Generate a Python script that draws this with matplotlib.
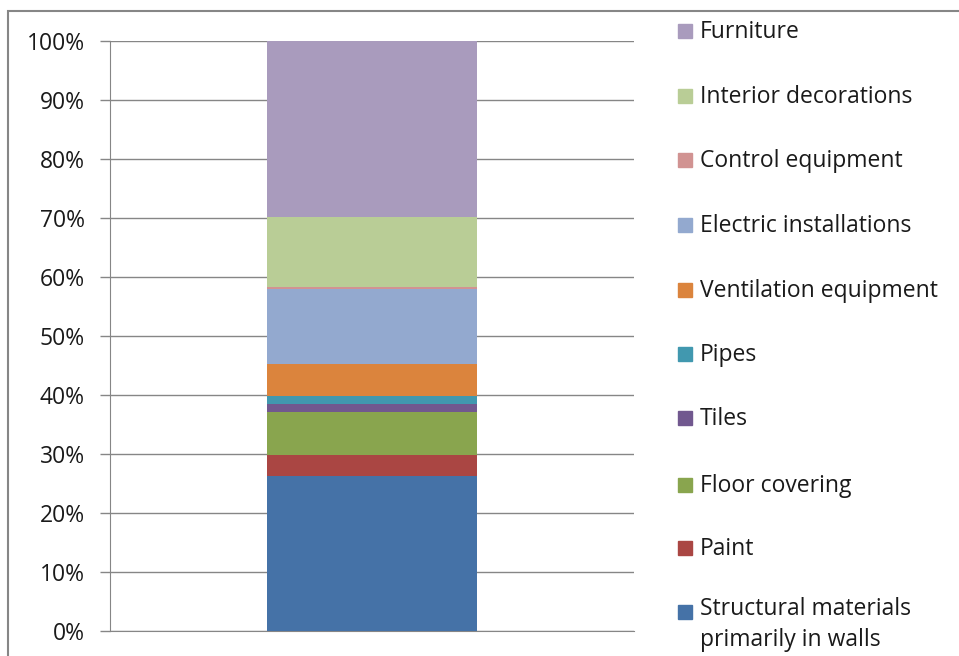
import matplotlib
matplotlib.use("Agg")
import matplotlib.pyplot as plt
import matplotlib.patches as mpatches
from matplotlib.ticker import PercentFormatter

plt.rcParams["font.family"] = ["Open Sans", "DejaVu Sans"]

categories = [
    "Structural materials\nprimarily in walls",
    "Paint",
    "Floor covering",
    "Tiles",
    "Pipes",
    "Ventilation equipment",
    "Electric installations",
    "Control equipment",
    "Interior decorations",
    "Furniture",
]
values = [26.3, 3.5, 7.4, 1.3, 1.3, 5.45, 12.65, 0.4, 11.9, 29.8]
colors = ["#4572A7", "#AA4643", "#89A54E", "#71588F", "#4198AF",
          "#DB843D", "#93A9CF", "#D19392", "#B9CD96", "#A99BBD"]
yticks = [0, 10, 20, 30, 40, 50, 60, 70, 80, 90, 100]

W, H = 959, 656
fig = plt.figure(figsize=(W / 100, H / 100), dpi=100)
ax = fig.add_axes([110 / W, (H - 631) / H, 524 / W, 590 / H])

# stacked 100% column
bottom = 0
for v, c in zip(values, colors):
    ax.bar(0, v, width=0.4, bottom=bottom, color=c, zorder=3)
    bottom += v

ax.set_xlim(-0.5, 0.5)
ax.set_ylim(0, 100)
ax.set_xticks([])
ax.set_yticks(yticks)
ax.yaxis.set_major_formatter(PercentFormatter(decimals=0))
ax.grid(axis="y", color="#868686", linewidth=1, zorder=0)
ax.tick_params(axis="y", length=7.2, width=1, color="#868686",
               labelsize=16.5, labelcolor="#1a1a1a", pad=11)
for s in ["top", "right"]:
    ax.spines[s].set_visible(False)
ax.spines["left"].set_color("#868686")
ax.spines["bottom"].set_color("#868686")

# legend, drawn by hand in figure pixels (Excel style, reverse order)
y_pos = [612, 548, 485, 418, 354, 290, 225, 160, 96, 31]
for lab, c, yp in zip(categories, colors, y_pos):
    fig.patches.append(mpatches.Rectangle(
        (678 / W, (H - yp - 7) / H), 14 / W, 14 / H,
        color=c, transform=fig.transFigure))
    if "\n" in lab:
        fig.text(700 / W, (H - yp + 15) / H, lab, fontsize=16.5,
                 color="#1a1a1a", va="top", linespacing=1.4)
    else:
        fig.text(700 / W, (H - yp - 1) / H, lab, fontsize=16.5,
                 color="#1a1a1a", va="center")

# outer chart border
fig.patches.append(mpatches.Rectangle(
    (8 / W, -0.1), 1.2, (H - 11) / H + 0.1, fill=False,
    edgecolor="#868686", linewidth=1.5, transform=fig.transFigure))

fig.savefig("out.png", dpi=100)
